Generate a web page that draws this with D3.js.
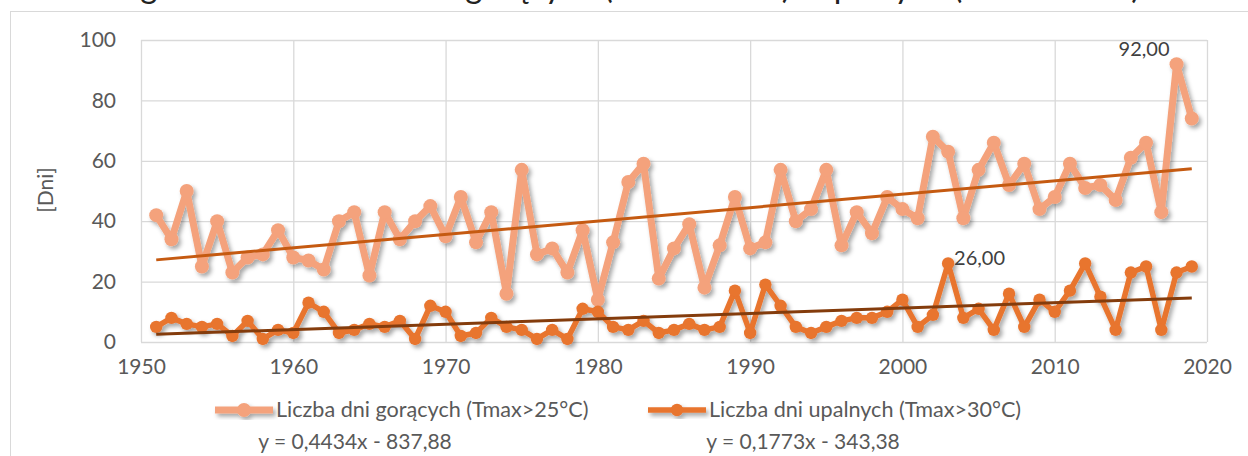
<!DOCTYPE html>
<html><head><meta charset="utf-8">
<script src="https://cdn.jsdelivr.net/npm/d3@7"></script>
<style>
html,body{margin:0;padding:0;background:#fff;}
svg{display:block;}
text{font-family:"Lato","Open Sans",sans-serif;}
</style></head>
<body>
<svg id="c" width="1248" height="456"></svg>
<script>
const years = [1951,1952,1953,1954,1955,1956,1957,1958,1959,1960,
1961,1962,1963,1964,1965,1966,1967,1968,1969,1970,
1971,1972,1973,1974,1975,1976,1977,1978,1979,1980,
1981,1982,1983,1984,1985,1986,1987,1988,1989,1990,
1991,1992,1993,1994,1995,1996,1997,1998,1999,2000,
2001,2002,2003,2004,2005,2006,2007,2008,2009,2010,
2011,2012,2013,2014,2015,2016,2017,2018,2019];
const hotDays = [42,34,50,25,40,23,28,29,37,28,
27,24,40,43,22,43,34,40,45,35,
48,33,43,16,57,29,31,23,37,14,
33,53,59,21,31,39,18,32,48,31,
33,57,40,44,57,32,43,36,48,44,
41,68,63,41,57,66,52,59,44,48,
59,51,52,47,61,66,43,92,74];
const heatDays = [5,8,6,5,6,2,7,1,4,3,
13,10,3,4,6,5,7,1,12,10,
2,3,8,5,4,1,4,1,11,10,
5,4,7,3,4,6,4,5,17,3,
19,12,5,3,5,7,8,8,10,14,
5,9,26,8,11,4,16,5,14,10,
17,26,15,4,23,25,4,23,25];
const seriesNames = ["Liczba dni gorących (Tmax>25°C)","Liczba dni upalnych (Tmax>30°C)"];
const trendSlope = [0.4434, 0.1773];
const trendIntercept = [-837.88, -343.38];
const trendLabels = ["y = 0,4434x - 837,88","y = 0,1773x - 343,38"];
const xTicks = [1950,1960,1970,1980,1990,2000,2010,2020];
const yTicks = [0,20,40,60,80,100];
const titleText = "Długoterminowa ilość dni gorących (Tmax>25°C) i upalnych (Tmax>30°C)";
const yTitle = "[Dni]";

const svg = d3.select("#c");
const W=1248,H=456;
const L=141,R=1207,T=40,B=342;
const x = d3.scaleLinear().domain([1950,2020]).range([L,R]);
const y = d3.scaleLinear().domain([0,100]).range([B,T]);

const defs = svg.append("defs");
const f = defs.append("filter").attr("id","sh").attr("x","-20%").attr("y","-20%").attr("width","140%").attr("height","140%");
f.append("feDropShadow").attr("dx",2.5).attr("dy",3).attr("stdDeviation",2).attr("flood-color","#000").attr("flood-opacity",0.35);

svg.append("rect").attr("width",W).attr("height",H).attr("fill","#fff");
// title (cut off at the top, as in the source image)
svg.append("text").attr("x",87).attr("y",-2).attr("text-anchor","start")
  .attr("font-size",35).attr("fill","#222")
  .attr("textLength",1053).attr("lengthAdjust","spacingAndGlyphs").text(titleText);
// chart border
svg.append("rect").attr("x",10.5).attr("y",11.5).attr("width",1260).attr("height",470)
  .attr("fill","#fff").attr("stroke","#d9d9d9");

// grid
const gx = svg.append("g").attr("transform",`translate(0,${B})`)
  .call(d3.axisBottom(x).tickValues(xTicks).tickSize(-(B-T)).tickFormat(""));
gx.select(".domain").remove();
gx.selectAll("line").attr("stroke","#d9d9d9").attr("stroke-width",1.3);
const gy = svg.append("g").attr("transform",`translate(${L},0)`)
  .call(d3.axisLeft(y).tickValues(yTicks).tickSize(-(R-L)).tickFormat(""));
gy.select(".domain").remove();
gy.selectAll("line").attr("stroke","#d9d9d9").attr("stroke-width",1.3);

// axis labels
const ax = svg.append("g").attr("transform",`translate(0,${B+14})`)
  .call(d3.axisBottom(x).tickValues(xTicks).tickSize(0).tickFormat(d3.format("d")));
ax.select(".domain").remove();
ax.selectAll("text").attr("font-size",21).attr("fill","#595959");
const ay = svg.append("g").attr("transform",`translate(${L-22},0)`)
  .call(d3.axisLeft(y).tickValues(yTicks).tickSize(0).tickFormat(d3.format("d")));
ay.select(".domain").remove();
ay.selectAll("text").attr("font-size",21).attr("fill","#595959");
svg.selectAll(".tick text").attr("font-family",null);

svg.append("text").attr("transform","translate(53,190) rotate(-90)").attr("text-anchor","middle")
  .attr("font-size",21).attr("fill","#595959").text(yTitle);

const colors = ["#f4a27c","#e8742f"];
const trendColors = ["#c55a11","#843c0c"];
const lineW = [7,5.5], rad=[7,6.2];
const data = [hotDays, heatDays];

data.forEach((vals,i)=>{
  const g = svg.append("g").attr("filter","url(#sh)");
  const line = d3.line().x((d,j)=>x(years[j])).y(d=>y(d));
  g.append("path").datum(vals).attr("d",line).attr("fill","none")
    .attr("stroke",colors[i]).attr("stroke-width",lineW[i]).attr("stroke-linejoin","round");
  g.selectAll("circle").data(vals).join("circle")
    .attr("cx",(d,j)=>x(years[j])).attr("cy",d=>y(d)).attr("r",rad[i]).attr("fill",colors[i]);
});
// trendlines
data.forEach((vals,i)=>{
  const x0=years[0], x1=years[years.length-1];
  svg.append("line").attr("x1",x(x0)).attr("x2",x(x1))
    .attr("y1",y(trendSlope[i]*x0+trendIntercept[i])).attr("y2",y(trendSlope[i]*x1+trendIntercept[i]))
    .attr("stroke",trendColors[i]).attr("stroke-width",3);
});

// data labels
const iMax = hotDays.indexOf(d3.max(hotDays));
svg.append("text").attr("x",x(years[iMax])-7).attr("y",y(hotDays[iMax])-8).attr("text-anchor","end")
  .attr("font-size",20).attr("fill","#404040").text(d3.format(".2f")(hotDays[iMax]).replace(".",","));
const jMax = heatDays.indexOf(d3.max(heatDays));
svg.append("text").attr("x",x(years[jMax])+6).attr("y",y(heatDays[jMax])+2).attr("text-anchor","start")
  .attr("font-size",20).attr("fill","#404040").text(d3.format(".2f")(heatDays[jMax]).replace(".",","));

// legend
const legX = [215, 648], legTextX=[276,709];
[0,1].forEach(i=>{
  const g = svg.append("g").attr("filter","url(#sh)");
  g.append("line").attr("x1",legX[i]).attr("x2",legX[i]+58).attr("y1",410).attr("y2",410)
    .attr("stroke",colors[i]).attr("stroke-width",lineW[i]);
  g.append("circle").attr("cx",legX[i]+29).attr("cy",410).attr("r",rad[i]).attr("fill",colors[i]);
  svg.append("text").attr("x",legTextX[i]).attr("y",417).attr("font-size",21.6).attr("fill","#595959").text(seriesNames[i]);
});
const eqX=[355,803];
[0,1].forEach(i=>{
  svg.append("text").attr("x",eqX[i]).attr("y",449).attr("text-anchor","middle")
    .attr("font-size",21).attr("fill","#595959").text(trendLabels[i]);
});
</script>
</body></html>
